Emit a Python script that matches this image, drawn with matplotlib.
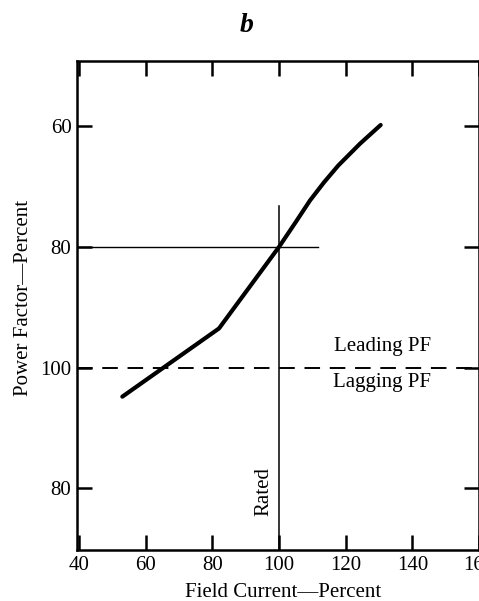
import matplotlib.pyplot as plt

plt.rcParams['font.family'] = ['Liberation Serif', 'DejaVu Serif']

# field current (%) vs. power factor position
# y position: leading PF -> value, lagging PF -> 200 - value (100 = unity)
field = [53, 82, 100, 105, 109.3, 113.5, 117.8, 124.3, 130.5]
pf_pos = [104.8, 93.5, 80, 75.9, 72.3, 69.3, 66.5, 62.9, 59.8]

x_ticks = [40, 60, 80, 100, 120, 140, 160]
y_ticks = [60, 80, 100, 120]
y_labels = ['60', '80', '100', '80']

fig = plt.figure(figsize=(4.79, 6.01), dpi=100)
ax = fig.add_axes([77 / 479, 51 / 601, 402 / 479, 489 / 601])

ax.plot(field, pf_pos, color='black', lw=3.0, solid_capstyle='round',
        solid_joinstyle='round')
ax.axhline(100, color='black', lw=1.4, dashes=(8, 5))
ax.plot([39.4, 111.7], [80, 80], color='black', lw=1.0)
ax.plot([100, 100], [73.3, 131], color='black', lw=1.1)

ax.text(131, 96.5, 'Leading PF', ha='center', va='center', fontsize=15)
ax.text(131, 102.4, 'Lagging PF', ha='center', va='center', fontsize=15)
ax.text(95.5, 120.5, 'Rated', ha='center', va='center', rotation=90, fontsize=15)

ax.set_xlim(39.4, 160)
ax.set_ylim(130.2, 49.2)
ax.set_xticks(x_ticks)
ax.set_yticks(y_ticks)
ax.set_yticklabels(y_labels)
ax.tick_params(direction='in', length=11, width=1.8, labelsize=15,
               top=True, right=True, pad=4)
for s in ax.spines.values():
    s.set_linewidth(1.8)

ax.set_xlabel('Field Current\u2014Percent', fontsize=15)
ax.set_ylabel('Power Factor\u2014Percent', fontsize=15)
ax.xaxis.set_label_coords((283 - 77) / 402, -(583 - 550) / 489)
ax.yaxis.set_label_coords(-(77 - 33) / 402, (550 - 298) / 489)
fig.text(247 / 479, 1 - 25 / 601, 'b', fontsize=20, fontweight='bold',
         style='italic', ha='center', va='center')

fig.savefig('out.png', dpi=100)
